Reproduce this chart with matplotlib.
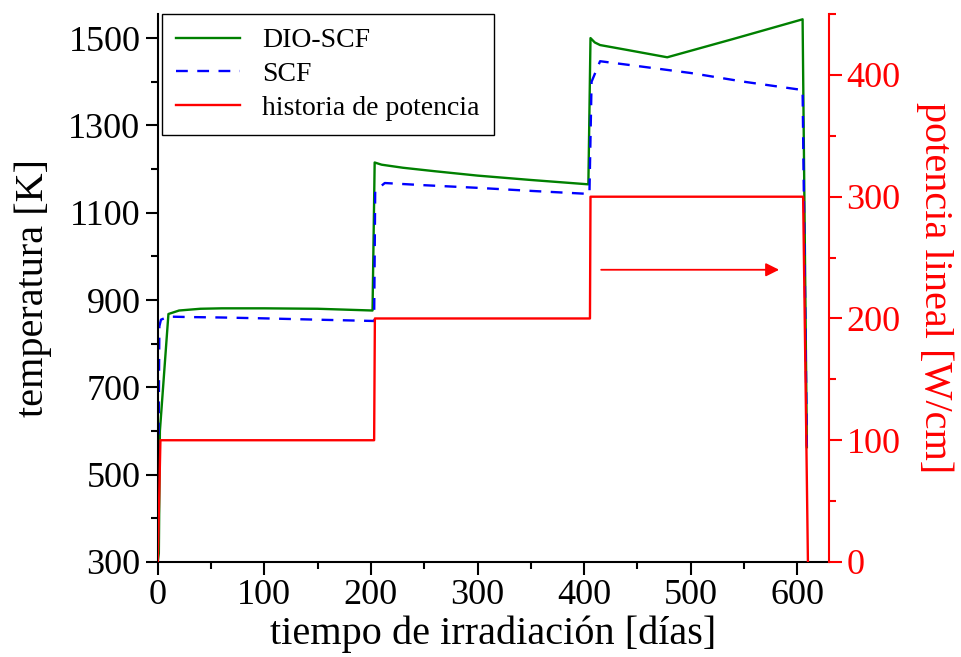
import matplotlib
matplotlib.use("Agg")
import matplotlib.pyplot as plt
from matplotlib.ticker import MultipleLocator

plt.rcParams['font.family'] = ['Liberation Serif', 'DejaVu Serif']

# DIO-SCF temperature [K] vs days
dio_t = [0, 1, 2, 10, 20, 40, 60, 100, 150, 201.5, 203.5, 210, 230, 260, 300, 350,
         404, 406, 410, 415, 440, 478, 540, 605, 609]
dio_T = [300, 320, 600, 868, 876, 880, 881, 881, 880, 876, 1215, 1210, 1203, 1195, 1185, 1175,
         1165, 1500, 1490, 1484, 1473, 1456, 1498, 1543, 563]

# SCF temperature [K] vs days
scf_t = [0, 1.5, 3, 10, 30, 60, 100, 150, 203, 204, 213, 250, 300, 350, 405,
         407, 415, 450, 500, 550, 605, 609]
scf_T = [300, 840, 855, 862, 861, 860, 858, 855, 852, 1150, 1168, 1163, 1157, 1150, 1143,
         1400, 1447, 1436, 1420, 1400, 1381, 560]

# power history [W/cm]
pot_t = [0, 2.5, 203, 203.7, 405.5, 406, 605.5, 610]
pot_P = [0, 100, 100, 200, 200, 300, 300, 0]

temp_ticks = [300, 500, 700, 900, 1100, 1300, 1500]

fig = plt.figure(figsize=(9.62, 6.57), dpi=100)
ax = fig.add_axes([0.164, 0.1446, 0.698, 0.834])
ax2 = ax.twinx()

l1, = ax.plot(dio_t, dio_T, color='green', lw=1.7, label='DIO-SCF')
l2, = ax.plot(scf_t, scf_T, color='blue', lw=1.7, ls=(0, (5, 4)), label='SCF')
l3, = ax2.plot(pot_t, pot_P, color='red', lw=1.7, label='historia de potencia')

ax.set_xlim(0, 630)
ax.set_ylim(300, 1555)
ax2.set_ylim(0, 450)

ax.xaxis.set_major_locator(MultipleLocator(100))
ax.xaxis.set_minor_locator(MultipleLocator(50))
ax.set_yticks(temp_ticks)
ax.yaxis.set_minor_locator(MultipleLocator(100))
ax2.yaxis.set_major_locator(MultipleLocator(100))
ax2.yaxis.set_minor_locator(MultipleLocator(50))

ax.tick_params(which='major', direction='out', length=9, width=1.5, labelsize=26)
ax.tick_params(which='minor', direction='out', length=5, width=1.5)
ax2.tick_params(which='major', direction='out', length=9, width=1.5, labelsize=26,
                colors='red')
ax2.tick_params(which='minor', direction='out', length=5, width=1.5, colors='red')

ax.spines['top'].set_visible(False)
ax2.spines['top'].set_visible(False)
ax.spines['left'].set_linewidth(1.5)
ax.spines['bottom'].set_linewidth(1.5)
ax2.spines['right'].set_color('red')
ax2.spines['right'].set_linewidth(1.5)
ax2.spines['left'].set_visible(False)
ax2.spines['bottom'].set_visible(False)
ax.spines['right'].set_visible(False)

ax.set_xlabel('tiempo de irradiación [días]', fontsize=29, labelpad=2)
ax.set_ylabel('temperatura [K]', fontsize=29, labelpad=12)
ax2.set_ylabel('potencia lineal [W/cm]', fontsize=29, color='red', rotation=-90,
               labelpad=38)

# arrow pointing to the right axis
ax2.annotate('', xy=(583, 240), xytext=(416, 240),
             arrowprops=dict(arrowstyle='-|>', color='red', lw=1.3,
                             mutation_scale=20, shrinkA=0, shrinkB=0))

leg = ax.legend(handles=[l1, l2, l3], loc='upper left', fontsize=20,
                handlelength=2.3, fancybox=False, edgecolor='black',
                framealpha=1, borderaxespad=0.0, borderpad=0.5,
                labelspacing=0.3, bbox_to_anchor=(0.007, 1.0))
leg.get_frame().set_linewidth(1.0)

fig.savefig('out.png', dpi=100)
